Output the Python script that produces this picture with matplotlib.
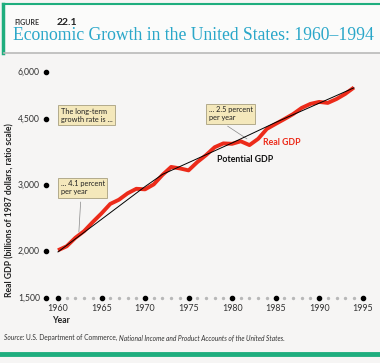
import matplotlib
matplotlib.use("Agg")
import matplotlib.pyplot as plt
from matplotlib.patches import Rectangle
from matplotlib.ticker import NullLocator

# data (billions of 1987 dollars)
years = list(range(1960, 1995))
real_gdp = [2010, 2060, 2170, 2260, 2390, 2520, 2670, 2740, 2850, 2930,
            2920, 3010, 3190, 3350, 3320, 3280, 3450, 3600, 3780, 3870,
            3860, 3920, 3830, 3980, 4230, 4360, 4490, 4630, 4810, 4930,
            4990, 4960, 5080, 5240, 5450]
pot_years = [1960, 1965, 1970, 1972, 1980, 1985, 1990, 1994]
pot_gdp = [1990, 2430, 2970, 3200, 3880, 4400, 4950, 5440]

y_ticks = [1500, 2000, 3000, 4500, 6000]
x_ticks = [1960, 1965, 1970, 1975, 1980, 1985, 1990, 1995]

FONT = "Lato"
teal = "#2aa7c9"
green = "#1fae7e"
red = "#ec2b1a"

fig = plt.figure(figsize=(3.8, 3.63), dpi=100)
fig.patch.set_facecolor("#f6f5f4")

# page frame
fig.add_artist(Rectangle((0.005, 0.855), 0.995, 0.135, transform=fig.transFigure,
                         facecolor="#fbfbfa", edgecolor="none"))
fig.add_artist(plt.Line2D([0.008, 1.0], [0.99, 0.99], color=green, lw=1.5))
fig.add_artist(plt.Line2D([0.009, 0.009], [0.855, 0.99], color=green, lw=2.5))
fig.add_artist(plt.Line2D([0.01, 1.0], [0.855, 0.855], color="#b9b9b9", lw=1.2))
fig.add_artist(plt.Line2D([0.0, 1.0], [0.025, 0.025], color=green, lw=3.5))

fig.text(0.037, 0.932, "FIGURE", fontsize=5, family=FONT, weight="bold", color="#333333")
fig.text(0.15, 0.932, "22.1", fontsize=7.5, family=FONT, weight="bold", color="#222222")
fig.text(0.035, 0.89, "Economic Growth in the United States: 1960\u20131994",
         fontsize=12.7, family="Liberation Serif", color=teal)

ax = fig.add_axes([0.121, 0.179, 0.847, 0.645])
ax.set_facecolor("none")
ax.set_yscale("log")
ax.set_xlim(1958.62, 1995.6)
ax.set_ylim(1500, 6300)
for s in ax.spines.values():
    s.set_visible(False)
ax.set_xticks([])
ax.set_yticks([])
ax.yaxis.set_minor_locator(NullLocator())

# tick dots
x_left = 1958.62
minor_years = [y for y in range(1961, 1996) if y not in x_ticks]
ax.scatter([x_left] * len(y_ticks), y_ticks, s=9, color="black", clip_on=False, zorder=5)
ax.scatter(minor_years, [1500] * len(minor_years),
           s=2, color="#b8b8b8", clip_on=False, zorder=4)
ax.scatter(x_ticks, [1500] * len(x_ticks), s=9, color="black", clip_on=False, zorder=5)
for v in y_ticks:
    ax.text(x_left - 0.7, v, f"{v:,}", ha="right", va="center", fontsize=6.2,
            family=FONT, color="#333333")
for yr in x_ticks:
    ax.text(yr, 1450, str(yr), ha="center", va="top", fontsize=6.4,
            family=FONT, color="#333333")

ax.plot(years, real_gdp, color=red, lw=2.8, solid_capstyle="butt", zorder=3)
ax.plot(pot_years, pot_gdp, color="black", lw=0.7, zorder=4)

ax.text(1983.5, 3880, "Real GDP", fontsize=6.3, family=FONT, weight="bold", color=red,
        va="center")
ax.text(1978.3, 3500, "Potential GDP", fontsize=6.3, family=FONT, weight="bold",
        color="#111111", va="center")

box = dict(boxstyle="square,pad=0.35", facecolor="#f4e8bb", edgecolor="#a8a07f", lw=0.6)
ax.text(1960.3, 4594, "The long-term\ngrowth rate is ...", fontsize=5.3, family=FONT,
        va="center", ha="left", bbox=box, linespacing=1.15, color="#222222")
ax.text(1960.3, 2948, "... 4.1 percent\nper year", fontsize=5.3, family=FONT,
        va="center", ha="left", bbox=box, linespacing=1.15, color="#222222")
ax.text(1977.3, 4638, "... 2.5 percent\nper year", fontsize=5.3, family=FONT,
        va="center", ha="left", bbox=box, linespacing=1.15, color="#222222")
ax.plot([1962.6, 1962.4], [2700, 2250], color="#888888", lw=0.5)
ax.plot([1979.5, 1981.7], [4300, 3980], color="#888888", lw=0.5)

fig.text(0.027, 0.42, "Real GDP (billions of 1987 dollars, ratio scale)", rotation=90,
         ha="center", va="center", fontsize=6.2, family=FONT, weight="bold", color="#222222")
fig.text(0.137, 0.117, "Year", ha="left", va="center", fontsize=6.2, family=FONT,
         weight="bold", color="#222222")

t1 = fig.text(0.011, 0.063, "Source: ", fontsize=4.8, family=FONT, style="italic", color="#333333")
t2 = ax.annotate("U.S. Department of Commerce, ", xy=(1, 0), xycoords=t1, fontsize=4.8,
                 family=FONT, color="#333333", va="bottom")
ax.annotate("National Income and Product Accounts of the United States.", xy=(1, 0),
            xycoords=t2, fontsize=4.8, family=FONT, style="italic", color="#333333", va="bottom")

fig.savefig("out.png", dpi=100, facecolor=fig.get_facecolor())
